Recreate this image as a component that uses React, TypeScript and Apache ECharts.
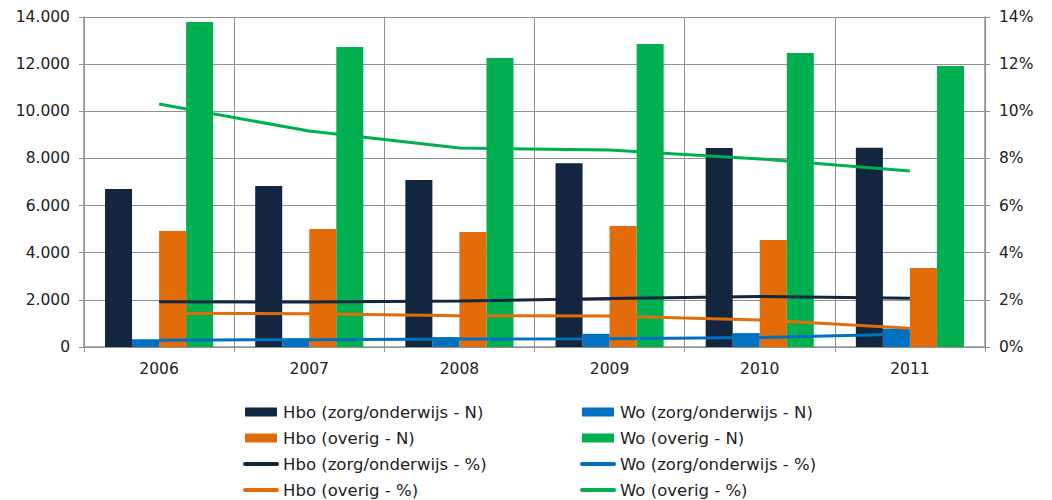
import React, { useEffect, useRef } from "react";
import * as echarts from "echarts";

const years = ["2006", "2007", "2008", "2009", "2010", "2011"];
const hboZorgN = [6700, 6830, 7090, 7800, 8440, 8450];
const woZorgN = [330, 360, 420, 560, 590, 780];
const hboOverigN = [4920, 5010, 4880, 5130, 4540, 3350];
const woOverigN = [13790, 12730, 12260, 12850, 12470, 11920];
const hboZorgPct = [1.92, 1.91, 1.95, 2.06, 2.14, 2.07];
const woZorgPct = [0.29, 0.31, 0.34, 0.35, 0.4, 0.55];
const hboOverigPct = [1.43, 1.41, 1.33, 1.32, 1.15, 0.8];
const woOverigPct = [10.31, 9.16, 8.44, 8.36, 7.98, 7.47];

const NAVY = "#12263f";
const BLUE = "#0070c0";
const ORANGE = "#e36c0a";
const GREEN = "#00b050";
const GRID = "#929292";
const FONT = "DejaVu Sans";

const fmtThousands = (v: number) =>
  String(Math.round(v)).replace(/\B(?=(\d{3})+(?!\d))/g, ".");

export default function App() {
  const ref = useRef<HTMLDivElement>(null);
  useEffect(() => {
    if (!ref.current) return;
    const chart = echarts.init(ref.current, undefined, { renderer: "svg" });
    const bar = (name: string, data: number[], color: string) => ({
      name,
      type: "bar",
      data,
      barGap: "0%",
      barCategoryGap: "28%",
      itemStyle: { color },
    });
    const line = (name: string, data: number[], color: string) => ({
      name,
      type: "line",
      yAxisIndex: 1,
      data,
      symbol: "none",
      lineStyle: { color, width: 3 },
      itemStyle: { color },
    });
    const legendBase = {
      orient: "vertical",
      top: 403,
      padding: 0,
      itemWidth: 32,
      itemHeight: 9,
      itemGap: 8,
      textStyle: { fontFamily: FONT, fontSize: 16.5, color: "#222", padding: [0, 0, 0, 1], lineHeight: 18 },
    };
    const lineItem = (name: string) => ({
      name,
      itemStyle: { opacity: 0 },
      lineStyle: { width: 4, cap: "round" },
    });
    const axisLabel = { color: "#222", fontSize: 15.5, margin: 14, fontFamily: FONT };
    chart.setOption({
      animation: false,
      textStyle: { fontFamily: FONT },
      grid: { left: 84, right: 67, top: 17, bottom: 153, containLabel: false },
      legend: [
        {
          ...legendBase,
          left: 243,
          data: [
            { name: "Hbo (zorg/onderwijs - N)", icon: "rect" },
            { name: "Hbo (overig - N)", icon: "rect" },
            lineItem("Hbo (zorg/onderwijs - %)"),
            lineItem("Hbo (overig - %)"),
          ],
        },
        {
          ...legendBase,
          left: 580,
          data: [
            { name: "Wo (zorg/onderwijs - N)", icon: "rect" },
            { name: "Wo (overig - N)", icon: "rect" },
            lineItem("Wo (zorg/onderwijs - %)"),
            lineItem("Wo (overig - %)"),
          ],
        },
      ],
      xAxis: {
        type: "category",
        data: years,
        boundaryGap: true,
        axisLine: { lineStyle: { color: GRID, width: 1.5 } },
        axisTick: { show: true, length: 5, lineStyle: { color: GRID } },
        axisLabel: { ...axisLabel },
        splitLine: { show: true, lineStyle: { color: GRID, width: 1 } },
      },
      yAxis: [
        {
          type: "value",
          min: 0,
          max: 14000,
          interval: 2000,
          axisLine: { show: true, lineStyle: { color: GRID, width: 1.5 } },
          axisTick: { show: true, length: 5, lineStyle: { color: GRID } },
          axisLabel: { ...axisLabel, formatter: (v: number) => fmtThousands(v) },
          splitLine: { show: true, lineStyle: { color: GRID, width: 1 } },
        },
        {
          type: "value",
          min: 0,
          max: 14,
          interval: 2,
          position: "right",
          axisLine: { show: true, lineStyle: { color: GRID, width: 1.5 } },
          axisTick: { show: true, length: 5, lineStyle: { color: GRID } },
          axisLabel: { ...axisLabel, formatter: "{value}%" },
          splitLine: { show: false },
        },
      ],
      series: [
        bar("Hbo (zorg/onderwijs - N)", hboZorgN, NAVY),
        bar("Wo (zorg/onderwijs - N)", woZorgN, BLUE),
        bar("Hbo (overig - N)", hboOverigN, ORANGE),
        bar("Wo (overig - N)", woOverigN, GREEN),
        line("Hbo (zorg/onderwijs - %)", hboZorgPct, NAVY),
        line("Wo (zorg/onderwijs - %)", woZorgPct, BLUE),
        line("Hbo (overig - %)", hboOverigPct, ORANGE),
        line("Wo (overig - %)", woOverigPct, GREEN),
      ],
    });
    return () => chart.dispose();
  }, []);
  return (
    <div
      ref={ref}
      style={{ position: "absolute", left: 0, top: 0, width: 1052, height: 500 }}
    />
  );
}
